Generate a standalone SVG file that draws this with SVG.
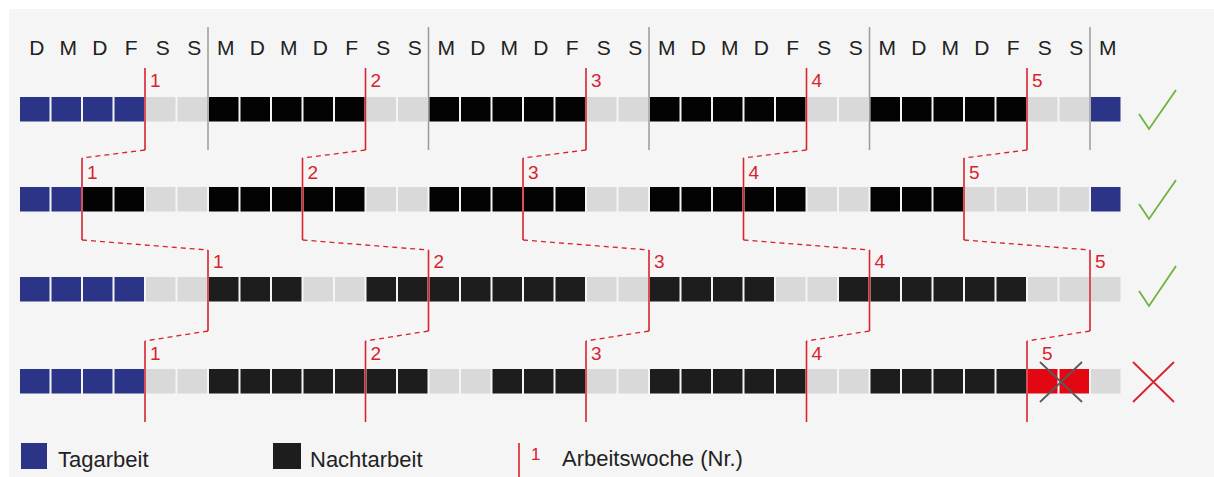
<svg xmlns="http://www.w3.org/2000/svg" width="1214" height="477" viewBox="0 0 1214 477">
<style>
text{font-family:"Liberation Sans",Arial,sans-serif}
.day{font-size:21px;fill:#222;text-anchor:middle}
.b{fill:#2b3486}
.n{fill:#030303}
.d{fill:#1d1d1d}
.g{fill:#d9d9d9}
.r{fill:#e30613}
.sep{stroke:#9a9a9a;stroke-width:1.5}
.wk{stroke:#d8232f;stroke-width:1.6;fill:none}
.dash{stroke:#d8232f;stroke-width:1.3;stroke-dasharray:5 4;fill:none}
.num{font-size:19px;fill:#d8232f}
.ok{stroke:#6db33f;stroke-width:1.8;fill:none}
.leg{font-size:22px;fill:#222}
</style>
<defs>
<rect id="c" width="29.5" height="24.5"/>
</defs>
<rect x="0" y="0" width="1214" height="477" fill="#ffffff"/>
<rect x="9" y="9" width="1205" height="468" fill="#f5f5f5"/>

<g id="days">
<text class="day" x="36.75" y="55">D</text><text class="day" x="68.25" y="55">M</text><text class="day" x="99.75" y="55">D</text><text class="day" x="131.25" y="55">F</text><text class="day" x="162.75" y="55">S</text><text class="day" x="194.25" y="55">S</text>
<text class="day" x="225.75" y="55">M</text><text class="day" x="257.25" y="55">D</text><text class="day" x="288.75" y="55">M</text><text class="day" x="320.25" y="55">D</text><text class="day" x="351.75" y="55">F</text><text class="day" x="383.25" y="55">S</text><text class="day" x="414.75" y="55">S</text>
<text class="day" x="446.25" y="55">M</text><text class="day" x="477.75" y="55">D</text><text class="day" x="509.25" y="55">M</text><text class="day" x="540.75" y="55">D</text><text class="day" x="572.25" y="55">F</text><text class="day" x="603.75" y="55">S</text><text class="day" x="635.25" y="55">S</text>
<text class="day" x="666.75" y="55">M</text><text class="day" x="698.25" y="55">D</text><text class="day" x="729.75" y="55">M</text><text class="day" x="761.25" y="55">D</text><text class="day" x="792.75" y="55">F</text><text class="day" x="824.25" y="55">S</text><text class="day" x="855.75" y="55">S</text>
<text class="day" x="887.25" y="55">M</text><text class="day" x="918.75" y="55">D</text><text class="day" x="950.25" y="55">M</text><text class="day" x="981.75" y="55">D</text><text class="day" x="1013.25" y="55">F</text><text class="day" x="1044.75" y="55">S</text><text class="day" x="1076.25" y="55">S</text>
<text class="day" x="1107.75" y="55">M</text>
</g>

<g id="week-separators">
<line class="sep" x1="208" y1="27" x2="208" y2="150"/>
<line class="sep" x1="428.5" y1="27" x2="428.5" y2="150"/>
<line class="sep" x1="649" y1="27" x2="649" y2="150"/>
<line class="sep" x1="869.5" y1="27" x2="869.5" y2="150"/>
<line class="sep" x1="1090" y1="27" x2="1090" y2="150"/>
</g>

<g id="row1">
<use href="#c" class="b" x="20" y="97"/><use href="#c" class="b" x="51.5" y="97"/><use href="#c" class="b" x="83" y="97"/><use href="#c" class="b" x="114.5" y="97"/>
<use href="#c" class="g" x="146" y="97"/><use href="#c" class="g" x="177.5" y="97"/>
<use href="#c" class="n" x="209" y="97"/><use href="#c" class="n" x="240.5" y="97"/><use href="#c" class="n" x="272" y="97"/><use href="#c" class="n" x="303.5" y="97"/><use href="#c" class="n" x="335" y="97"/>
<use href="#c" class="g" x="366.5" y="97"/><use href="#c" class="g" x="398" y="97"/>
<use href="#c" class="n" x="429.5" y="97"/><use href="#c" class="n" x="461" y="97"/><use href="#c" class="n" x="492.5" y="97"/><use href="#c" class="n" x="524" y="97"/><use href="#c" class="n" x="555.5" y="97"/>
<use href="#c" class="g" x="587" y="97"/><use href="#c" class="g" x="618.5" y="97"/>
<use href="#c" class="n" x="650" y="97"/><use href="#c" class="n" x="681.5" y="97"/><use href="#c" class="n" x="713" y="97"/><use href="#c" class="n" x="744.5" y="97"/><use href="#c" class="n" x="776" y="97"/>
<use href="#c" class="g" x="807.5" y="97"/><use href="#c" class="g" x="839" y="97"/>
<use href="#c" class="n" x="870.5" y="97"/><use href="#c" class="n" x="902" y="97"/><use href="#c" class="n" x="933.5" y="97"/><use href="#c" class="n" x="965" y="97"/><use href="#c" class="n" x="996.5" y="97"/>
<use href="#c" class="g" x="1028" y="97"/><use href="#c" class="g" x="1059.5" y="97"/>
<use href="#c" class="b" x="1091" y="97"/>
</g>

<g id="row2">
<use href="#c" class="b" x="20" y="187"/><use href="#c" class="b" x="51.5" y="187"/><use href="#c" class="n" x="83" y="187"/><use href="#c" class="n" x="114.5" y="187"/>
<use href="#c" class="g" x="146" y="187"/><use href="#c" class="g" x="177.5" y="187"/>
<use href="#c" class="n" x="209" y="187"/><use href="#c" class="n" x="240.5" y="187"/><use href="#c" class="n" x="272" y="187"/><use href="#c" class="n" x="303.5" y="187"/><use href="#c" class="n" x="335" y="187"/>
<use href="#c" class="g" x="366.5" y="187"/><use href="#c" class="g" x="398" y="187"/>
<use href="#c" class="n" x="429.5" y="187"/><use href="#c" class="n" x="461" y="187"/><use href="#c" class="n" x="492.5" y="187"/><use href="#c" class="n" x="524" y="187"/><use href="#c" class="n" x="555.5" y="187"/>
<use href="#c" class="g" x="587" y="187"/><use href="#c" class="g" x="618.5" y="187"/>
<use href="#c" class="n" x="650" y="187"/><use href="#c" class="n" x="681.5" y="187"/><use href="#c" class="n" x="713" y="187"/><use href="#c" class="n" x="744.5" y="187"/><use href="#c" class="n" x="776" y="187"/>
<use href="#c" class="g" x="807.5" y="187"/><use href="#c" class="g" x="839" y="187"/>
<use href="#c" class="n" x="870.5" y="187"/><use href="#c" class="n" x="902" y="187"/><use href="#c" class="n" x="933.5" y="187"/>
<use href="#c" class="g" x="965" y="187"/><use href="#c" class="g" x="996.5" y="187"/><use href="#c" class="g" x="1028" y="187"/><use href="#c" class="g" x="1059.5" y="187"/>
<use href="#c" class="b" x="1091" y="187"/>
</g>

<g id="row3">
<use href="#c" class="b" x="20" y="277"/><use href="#c" class="b" x="51.5" y="277"/><use href="#c" class="b" x="83" y="277"/><use href="#c" class="b" x="114.5" y="277"/>
<use href="#c" class="g" x="146" y="277"/><use href="#c" class="g" x="177.5" y="277"/>
<use href="#c" class="d" x="209" y="277"/><use href="#c" class="d" x="240.5" y="277"/><use href="#c" class="d" x="272" y="277"/>
<use href="#c" class="g" x="303.5" y="277"/><use href="#c" class="g" x="335" y="277"/>
<use href="#c" class="d" x="366.5" y="277"/><use href="#c" class="d" x="398" y="277"/><use href="#c" class="d" x="429.5" y="277"/><use href="#c" class="d" x="461" y="277"/><use href="#c" class="d" x="492.5" y="277"/><use href="#c" class="d" x="524" y="277"/><use href="#c" class="d" x="555.5" y="277"/>
<use href="#c" class="g" x="587" y="277"/><use href="#c" class="g" x="618.5" y="277"/>
<use href="#c" class="d" x="650" y="277"/><use href="#c" class="d" x="681.5" y="277"/><use href="#c" class="d" x="713" y="277"/><use href="#c" class="d" x="744.5" y="277"/>
<use href="#c" class="g" x="776" y="277"/><use href="#c" class="g" x="807.5" y="277"/>
<use href="#c" class="d" x="839" y="277"/><use href="#c" class="d" x="870.5" y="277"/><use href="#c" class="d" x="902" y="277"/><use href="#c" class="d" x="933.5" y="277"/><use href="#c" class="d" x="965" y="277"/><use href="#c" class="d" x="996.5" y="277"/>
<use href="#c" class="g" x="1028" y="277"/><use href="#c" class="g" x="1059.5" y="277"/><use href="#c" class="g" x="1091" y="277"/>
</g>

<g id="row4">
<use href="#c" class="b" x="20" y="369"/><use href="#c" class="b" x="51.5" y="369"/><use href="#c" class="b" x="83" y="369"/><use href="#c" class="b" x="114.5" y="369"/>
<use href="#c" class="g" x="146" y="369"/><use href="#c" class="g" x="177.5" y="369"/>
<use href="#c" class="d" x="209" y="369"/><use href="#c" class="d" x="240.5" y="369"/><use href="#c" class="d" x="272" y="369"/><use href="#c" class="d" x="303.5" y="369"/><use href="#c" class="d" x="335" y="369"/><use href="#c" class="d" x="366.5" y="369"/><use href="#c" class="d" x="398" y="369"/>
<use href="#c" class="g" x="429.5" y="369"/><use href="#c" class="g" x="461" y="369"/>
<use href="#c" class="d" x="492.5" y="369"/><use href="#c" class="d" x="524" y="369"/><use href="#c" class="d" x="555.5" y="369"/>
<use href="#c" class="g" x="587" y="369"/><use href="#c" class="g" x="618.5" y="369"/>
<use href="#c" class="d" x="650" y="369"/><use href="#c" class="d" x="681.5" y="369"/><use href="#c" class="d" x="713" y="369"/><use href="#c" class="d" x="744.5" y="369"/><use href="#c" class="d" x="776" y="369"/>
<use href="#c" class="g" x="807.5" y="369"/><use href="#c" class="g" x="839" y="369"/>
<use href="#c" class="d" x="870.5" y="369"/><use href="#c" class="d" x="902" y="369"/><use href="#c" class="d" x="933.5" y="369"/><use href="#c" class="d" x="965" y="369"/><use href="#c" class="d" x="996.5" y="369"/>
<use href="#c" class="r" x="1028" y="369"/><use href="#c" class="r" x="1059.5" y="369"/>
<use href="#c" class="g" x="1091" y="369"/>
<path d="M1040 362 L1082 402 M1082 362 L1040 402" stroke="#5a5a5a" stroke-width="1.8" fill="none"/>
</g>

<g id="connectors">
<path class="dash" d="M145 150 L82 158"/><path class="dash" d="M365.5 150 L302.5 158"/><path class="dash" d="M586 150 L523 158"/><path class="dash" d="M806.5 150 L743.5 158"/><path class="dash" d="M1027 150 L964 158"/>
<path class="dash" d="M82 240 L208 250"/><path class="dash" d="M302.5 240 L428.5 250"/><path class="dash" d="M523 240 L649 250"/><path class="dash" d="M743.5 240 L869.5 250"/><path class="dash" d="M964 240 L1090 250"/>
<path class="dash" d="M208 331 L145 341"/><path class="dash" d="M428.5 331 L365.5 341"/><path class="dash" d="M649 331 L586 341"/><path class="dash" d="M869.5 331 L806.5 341"/><path class="dash" d="M1090 331 L1027 341"/>
</g>

<g id="week-markers-row1">
<line class="wk" x1="145" y1="68" x2="145" y2="150"/><text class="num" x="150" y="87">1</text>
<line class="wk" x1="365.5" y1="68" x2="365.5" y2="150"/><text class="num" x="370.5" y="87">2</text>
<line class="wk" x1="586" y1="68" x2="586" y2="150"/><text class="num" x="591" y="87">3</text>
<line class="wk" x1="806.5" y1="68" x2="806.5" y2="150"/><text class="num" x="811.5" y="87">4</text>
<line class="wk" x1="1027" y1="68" x2="1027" y2="150"/><text class="num" x="1032" y="87">5</text>
</g>
<g id="week-markers-row2">
<line class="wk" x1="82" y1="158" x2="82" y2="240"/><text class="num" x="87" y="179">1</text>
<line class="wk" x1="302.5" y1="158" x2="302.5" y2="240"/><text class="num" x="307.5" y="179">2</text>
<line class="wk" x1="523" y1="158" x2="523" y2="240"/><text class="num" x="528" y="179">3</text>
<line class="wk" x1="743.5" y1="158" x2="743.5" y2="240"/><text class="num" x="748.5" y="179">4</text>
<line class="wk" x1="964" y1="158" x2="964" y2="240"/><text class="num" x="969" y="179">5</text>
</g>
<g id="week-markers-row3">
<line class="wk" x1="208" y1="250" x2="208" y2="331"/><text class="num" x="213" y="268">1</text>
<line class="wk" x1="428.5" y1="250" x2="428.5" y2="331"/><text class="num" x="433.5" y="268">2</text>
<line class="wk" x1="649" y1="250" x2="649" y2="331"/><text class="num" x="654" y="268">3</text>
<line class="wk" x1="869.5" y1="250" x2="869.5" y2="331"/><text class="num" x="874.5" y="268">4</text>
<line class="wk" x1="1090" y1="250" x2="1090" y2="331"/><text class="num" x="1095" y="268">5</text>
</g>
<g id="week-markers-row4">
<line class="wk" x1="145" y1="341" x2="145" y2="422"/><text class="num" x="150" y="360">1</text>
<line class="wk" x1="365.5" y1="341" x2="365.5" y2="422"/><text class="num" x="370.5" y="360">2</text>
<line class="wk" x1="586" y1="341" x2="586" y2="422"/><text class="num" x="591" y="360">3</text>
<line class="wk" x1="806.5" y1="341" x2="806.5" y2="422"/><text class="num" x="811.5" y="360">4</text>
<line class="wk" x1="1027" y1="341" x2="1027" y2="422"/><text class="num" x="1042" y="360">5</text>
</g>

<g id="results">
<path class="ok" d="M1139 114 L1149 129 L1176 90"/>
<path class="ok" d="M1139 204 L1149 219 L1176 180"/>
<path class="ok" d="M1139 291 L1149 306 L1176 266"/>
<path d="M1133 362 L1174 402 M1174 362 L1133 402" stroke="#d8232f" stroke-width="1.8" fill="none"/>
</g>

<g id="legend">
<rect x="21" y="443" width="26" height="26" class="b"/>
<text class="leg" x="58" y="467">Tagarbeit</text>
<rect x="273" y="443" width="28" height="26" class="d"/>
<text class="leg" x="310" y="467">Nachtarbeit</text>
<line class="wk" x1="519" y1="443" x2="519" y2="477"/>
<text x="531" y="460" style="font-size:17px;fill:#d8232f">1</text>
<text class="leg" x="562" y="466">Arbeitswoche (Nr.)</text>
</g>
</svg>
